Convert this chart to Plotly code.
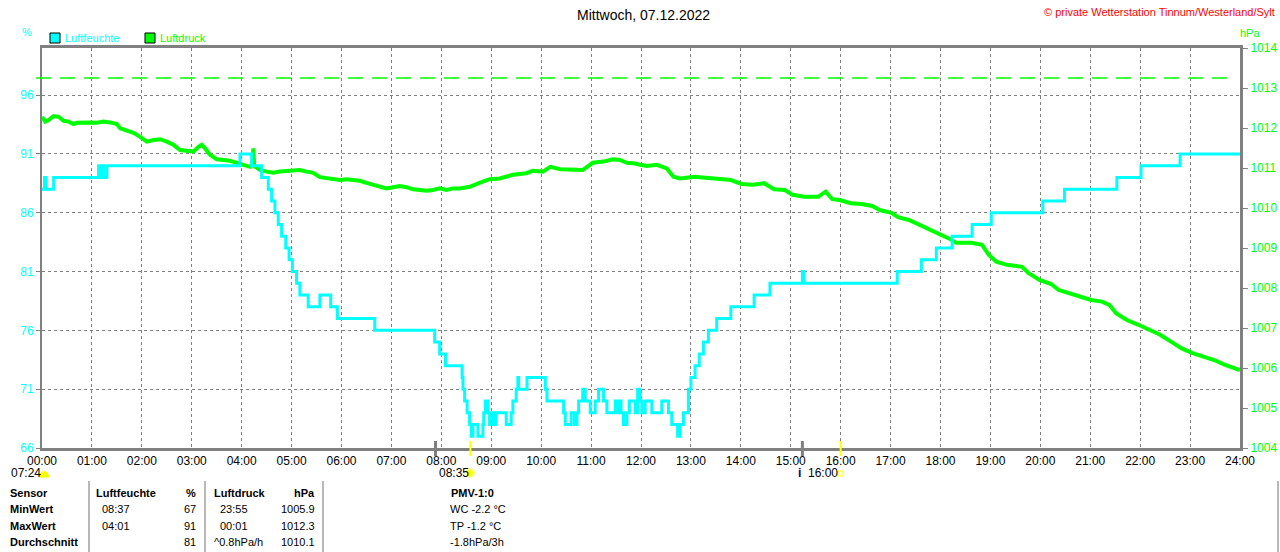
import plotly.graph_objects as go

# Luftfeuchte (%), Stufenverlauf: Zeitpunkt der Änderung -> neuer Wert
hum_times = ["00:00", "00:03", "00:05", "00:14", "01:08", "01:11", "01:12", "01:14", "01:18",
             "03:58", "04:12", "04:24", "04:32", "04:36", "04:40", "04:44", "04:48", "04:53",
             "04:57", "05:01", "05:06", "05:10", "05:20", "05:34", "05:47", "05:55", "06:40",
             "07:52", "07:58", "08:05", "08:25", "08:26", "08:28", "08:31", "08:34", "08:36",
             "08:38", "08:44", "08:50", "08:51", "08:53", "08:56", "08:58", "09:02", "09:04",
             "09:06", "09:18", "09:24", "09:26", "09:30", "09:32", "09:33", "09:43", "10:05",
             "10:07", "10:27", "10:29", "10:36", "10:40", "10:43", "10:45", "10:50", "10:53",
             "10:59", "11:05", "11:09", "11:15", "11:19", "11:29", "11:31", "11:33", "11:36",
             "11:39", "11:43", "11:46", "11:53", "11:56", "11:59", "12:01", "12:05", "12:13",
             "12:25", "12:33", "12:37", "12:44", "12:47", "12:51", "12:57", "13:00", "13:05",
             "13:10", "13:15", "13:21", "13:31", "13:48", "14:16", "14:35", "15:14", "15:16",
             "17:08", "17:37", "17:55", "18:14", "18:38", "19:01", "20:03", "20:29", "21:32",
             "22:01", "22:48", "24:00"]
hum_values = [88, 89, 88, 89, 90, 89, 90, 89, 90,
              91, 90, 89, 88, 87, 86, 85, 84, 83,
              82, 81, 80, 79, 78, 79, 78, 77, 76,
              75, 74, 73, 72, 71, 70, 69, 68, 67,
              68, 67, 68, 69, 70, 69, 68, 69, 68,
              69, 68, 69, 70, 71, 72, 71, 72, 71,
              70, 69, 68, 69, 68, 69, 70, 71, 70,
              69, 70, 71, 70, 69, 70, 69, 70, 69,
              68, 69, 70, 69, 71, 70, 69, 70, 69,
              70, 69, 68, 67, 68, 69, 71, 72, 73,
              74, 75, 76, 77, 78, 79, 80, 81, 80,
              81, 82, 83, 84, 85, 86, 87, 88, 89,
              90, 91, 91]

# Luftdruck (hPa)
press_times = ["00:00", "00:04", "00:08", "00:14", "00:20", "00:26", "00:32", "00:38", "00:42",
               "00:50", "00:58", "01:06", "01:14", "01:22", "01:30", "01:34", "01:42", "01:50",
               "01:58", "02:06", "02:14", "02:22", "02:30", "02:38", "02:46", "02:54", "03:02",
               "03:08", "03:12", "03:16", "03:22", "03:30", "03:38", "03:46", "03:54", "04:02",
               "04:10", "04:13", "04:14", "04:15", "04:22", "04:30", "04:38", "04:46", "04:54",
               "05:02", "05:10", "05:18", "05:26", "05:34", "05:42", "05:50", "05:58", "06:06",
               "06:14", "06:22", "06:30", "06:38", "06:46", "06:54", "07:02", "07:10", "07:18",
               "07:26", "07:34", "07:42", "07:50", "07:58", "08:06", "08:14", "08:22", "08:34",
               "08:46", "08:58", "09:10", "09:26", "09:42", "09:50", "10:02", "10:11", "10:23",
               "10:38", "10:50", "11:02", "11:15", "11:26", "11:35", "11:43", "11:51", "11:59",
               "12:07", "12:19", "12:31", "12:39", "12:47", "13:04", "13:30", "13:48", "14:01",
               "14:14", "14:28", "14:40", "14:53", "15:02", "15:16", "15:33", "15:42", "15:50",
               "15:59", "16:12", "16:25", "16:38", "16:47", "17:01", "17:09", "17:22", "17:35",
               "17:49", "18:02", "18:10", "18:19", "18:37", "18:50", "18:58", "19:07", "19:20",
               "19:38", "19:46", "19:59", "20:13", "20:22", "20:35", "20:47", "21:01", "21:14",
               "21:23", "21:31", "21:44", "21:58", "22:11", "22:24", "22:37", "22:50", "23:03",
               "23:16", "23:29", "23:42", "23:56", "24:00"]
press_values = [1012.28, 1012.16, 1012.20, 1012.30, 1012.28, 1012.18, 1012.16, 1012.10, 1012.13,
                1012.14, 1012.14, 1012.13, 1012.16, 1012.14, 1012.10, 1011.99, 1011.93, 1011.88,
                1011.78, 1011.66, 1011.70, 1011.72, 1011.66, 1011.58, 1011.45, 1011.43, 1011.41,
                1011.53, 1011.58, 1011.49, 1011.33, 1011.22, 1011.20, 1011.18, 1011.13, 1011.08,
                1011.03, 1011.10, 1011.49, 1011.05, 1010.95, 1010.91, 1010.88, 1010.91, 1010.93,
                1010.93, 1010.95, 1010.91, 1010.88, 1010.77, 1010.74, 1010.72, 1010.70, 1010.72,
                1010.70, 1010.68, 1010.63, 1010.58, 1010.53, 1010.49, 1010.52, 1010.55, 1010.52,
                1010.47, 1010.45, 1010.43, 1010.45, 1010.49, 1010.45, 1010.49, 1010.49, 1010.53,
                1010.63, 1010.72, 1010.74, 1010.83, 1010.87, 1010.93, 1010.91, 1011.03, 1010.97,
                1010.95, 1010.95, 1011.13, 1011.16, 1011.22, 1011.20, 1011.13, 1011.12, 1011.08,
                1011.05, 1011.08, 1010.99, 1010.78, 1010.74, 1010.78, 1010.74, 1010.70, 1010.60,
                1010.58, 1010.62, 1010.47, 1010.45, 1010.33, 1010.28, 1010.28, 1010.41, 1010.22,
                1010.20, 1010.12, 1010.10, 1010.05, 1009.95, 1009.88, 1009.77, 1009.70, 1009.58,
                1009.45, 1009.33, 1009.24, 1009.13, 1009.13, 1009.08, 1008.83, 1008.66, 1008.58,
                1008.53, 1008.37, 1008.20, 1008.10, 1007.95, 1007.87, 1007.78, 1007.70, 1007.66,
                1007.58, 1007.37, 1007.20, 1007.08, 1006.95, 1006.83, 1006.66, 1006.49, 1006.37,
                1006.28, 1006.20, 1006.08, 1005.97, 1005.95]

hour_labels = ["00:00", "01:00", "02:00", "03:00", "04:00", "05:00", "06:00", "07:00", "08:00",
               "09:00", "10:00", "11:00", "12:00", "13:00", "14:00", "15:00", "16:00", "17:00",
               "18:00", "19:00", "20:00", "21:00", "22:00", "23:00", "24:00"]
hum_ticks = [66, 71, 76, 81, 86, 91, 96]
press_ticks = [1004, 1005, 1006, 1007, 1008, 1009, 1010, 1011, 1012, 1013, 1014]
standard_pressure = 1013.25

sunrise, sunset = "08:35", "16:00"
grey_marks = ["07:53", "15:14"]
dawn_label, dusk_label = "07:24", "16:00"

table_rows = [
    ["Sensor", "Luftfeuchte", "%", "Luftdruck", "hPa", "PMV-1:0"],
    ["MinWert", "08:37", "67", "23:55", "1005.9", "WC -2.2 °C"],
    ["MaxWert", "04:01", "91", "00:01", "1012.3", "TP -1.2 °C"],
    ["Durchschnitt", "", "81", "^0.8hPa/h", "1010.1", "-1.8hPa/3h"],
]

CYAN = "#00ffff"
GREEN = "#00ff00"
GREY = "#808080"
FONT = "Arial, Liberation Sans, sans-serif"

L, R, T, B = 42, 40, 48, 104
PW, PH = 1280 - L - R, 552 - T - B


def hours(t):
    h, m = t.split(":")
    return int(h) + int(m) / 60


def X(px):
    return (px - L) / PW


def Y(py):
    return (T + PH - py) / PH


fig = go.Figure()
fig.add_trace(go.Scatter(x=[hours(t) for t in press_times], y=press_values, mode="lines",
                         line=dict(color=GREEN, width=4), yaxis="y", hoverinfo="skip"))
fig.add_trace(go.Scatter(x=[hours(t) for t in hum_times], y=hum_values, mode="lines",
                         line=dict(color=CYAN, width=3, shape="hv"), yaxis="y2", hoverinfo="skip"))

shapes = []
# Normaldruck-Linie
shapes.append(dict(type="line", xref="paper", yref="y", x0=X(36), x1=X(1230),
                   y0=standard_pressure, y1=standard_pressure,
                   line=dict(color=GREEN, width=1.5, dash="15px,9px")))
# Markierungen an der Zeitachse
for t in grey_marks:
    shapes.append(dict(type="line", xref="x", yref="paper", x0=hours(t), x1=hours(t),
                       y0=Y(456), y1=Y(441), line=dict(color=GREY, width=3)))
for t in (sunrise, sunset):
    shapes.append(dict(type="line", xref="x", yref="paper", x0=hours(t), x1=hours(t),
                       y0=Y(456), y1=Y(441), line=dict(color="#ffff00", width=2)))
# Sonnen-Symbole
shapes.append(dict(type="path", xref="paper", yref="paper",
                   path="M {},{} L {},{} L {},{} L {},{} L {},{} L {},{} L {},{} Z".format(
                       X(39), Y(477), X(40), Y(474), X(42), Y(472), X(44), Y(471.5),
                       X(46), Y(472), X(48), Y(474), X(49), Y(477)),
                   fillcolor="#ffff00", line=dict(color="#ffff00", width=1)))
shapes.append(dict(type="circle", xref="paper", yref="paper", x0=X(466), x1=X(474),
                   y0=Y(477), y1=Y(469), fillcolor="#ffff00", line=dict(color="#ffff80", width=2)))
shapes.append(dict(type="rect", xref="paper", yref="paper", x0=X(838), x1=X(843),
                   y0=Y(476), y1=Y(471), line=dict(color="#ffff00", width=1)))
# Legende
shapes.append(dict(type="rect", xref="paper", yref="paper", x0=X(50), x1=X(60),
                   y0=Y(43), y1=Y(33), fillcolor=CYAN, line=dict(color="black", width=1)))
shapes.append(dict(type="rect", xref="paper", yref="paper", x0=X(145), x1=X(155),
                   y0=Y(43), y1=Y(33), fillcolor=GREEN, line=dict(color="black", width=1)))
# Tabellen-Trennlinien
for sx in (89, 205, 323, 1278):
    shapes.append(dict(type="line", xref="paper", yref="paper", x0=X(sx), x1=X(sx),
                       y0=Y(481), y1=Y(552), line=dict(color="#a0a0a0", width=1.5)))

ann = []


def txt(text, px, py, color="black", size=11, anchor="left", bold=False):
    ann.append(dict(text="<b>%s</b>" % text if bold else text, x=X(px), y=Y(py),
                    xref="paper", yref="paper", xanchor=anchor, yanchor="middle",
                    showarrow=False, font=dict(color=color, size=size, family=FONT)))


txt("Mittwoch, 07.12.2022", 643, 15, size=14, anchor="center")
txt("© private Wetterstation Tinnum/Westerland/Sylt", 1277, 12, color="#ff0000", anchor="right")
txt("%", 27, 32, color=CYAN, anchor="center")
txt("hPa", 1250, 33, color=GREEN, anchor="center")
txt("Luftfeuchte", 63, 38, color=CYAN)
txt("Luftdruck", 158, 38, color=GREEN)
txt(dawn_label, 9, 473, size=12)
txt(sunrise, 437, 473, size=12)
txt("i", 799, 473, color="#000080", size=12, anchor="center", bold=True)
txt(dusk_label, 806, 473, size=12)

row_y = [493, 509, 526, 542]
for i, row in enumerate(table_rows):
    head = i == 0
    txt(row[0], 8, row_y[i], bold=True)
    txt(row[1], 94 if head else 100, row_y[i], bold=head)
    txt(row[2], 198, row_y[i], anchor="right", bold=head)
    txt(row[3], 212 if (head or i == 3) else 218, row_y[i], bold=head)
    txt(row[4], 317, row_y[i], anchor="right", bold=head)
    if head:
        txt(row[5], 472, row_y[i], anchor="center", bold=True)
    else:
        txt(row[5], 448, row_y[i])

fig.update_layout(
    width=1280, height=552,
    margin=dict(l=L, r=R, t=T, b=B),
    paper_bgcolor="white", plot_bgcolor="white",
    showlegend=False,
    font=dict(family=FONT, size=12, color="black"),
    xaxis=dict(range=[0, 24], tickvals=list(range(25)), ticktext=hour_labels,
               showgrid=True, gridcolor=GREY, gridwidth=1, griddash="3px,3px",
               showline=True, linecolor=GREY, linewidth=3, mirror=True,
               ticks="", zeroline=False, automargin=False,
               tickfont=dict(size=12, color="black")),
    yaxis=dict(range=[1004, 1014], tickvals=press_ticks, side="right",
               showgrid=False, zeroline=False, showline=True, linecolor=GREY, linewidth=3,
               ticks="outside", ticklen=5, tickcolor=GREY, automargin=False,
               tickfont=dict(size=12, color=GREEN)),
    yaxis2=dict(range=[66, 100], tickvals=hum_ticks, side="left", overlaying="y",
                showgrid=True, gridcolor=GREY, gridwidth=1, griddash="3px,3px",
                zeroline=False, showline=True, linecolor=GREY, linewidth=2,
                ticks="outside", ticklen=4, tickcolor=GREY, automargin=False,
                tickfont=dict(size=12, color=CYAN)),
    shapes=shapes,
    annotations=ann,
)

# Seite ohne Rand, damit das Diagramm exakt im Fenster sitzt
fig.write_html("out.html", config={"displayModeBar": False},
               post_script="document.body.style.margin='0';")
